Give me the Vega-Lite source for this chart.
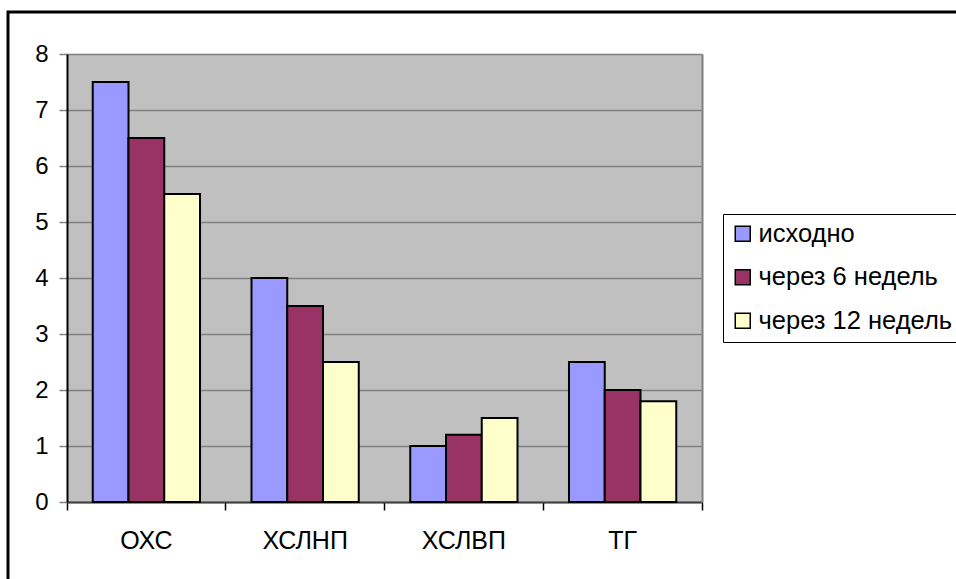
{
  "$schema": "https://vega.github.io/schema/vega-lite/v6.json",
  "autosize": {"type": "none"},
  "width": 958,
  "height": 577,
  "padding": {"left": 8, "top": 12, "right": -10, "bottom": -10},
  "background": "#ffffff",
  "config": {
    "font": "Liberation Sans",
    "view": {"stroke": "#000000", "strokeWidth": 3, "fill": "#ffffff"}
  },
  "data": {
    "values": [
      {"показатель": "ОХС", "срок": "исходно", "значение": 7.5},
      {"показатель": "ОХС", "срок": "через 6 недель", "значение": 6.5},
      {"показатель": "ОХС", "срок": "через 12 недель", "значение": 5.5},
      {"показатель": "ХСЛНП", "срок": "исходно", "значение": 4.0},
      {"показатель": "ХСЛНП", "срок": "через 6 недель", "значение": 3.5},
      {"показатель": "ХСЛНП", "срок": "через 12 недель", "значение": 2.5},
      {"показатель": "ХСЛВП", "срок": "исходно", "значение": 1.0},
      {"показатель": "ХСЛВП", "срок": "через 6 недель", "значение": 1.2},
      {"показатель": "ХСЛВП", "срок": "через 12 недель", "значение": 1.5},
      {"показатель": "ТГ", "срок": "исходно", "значение": 2.5},
      {"показатель": "ТГ", "срок": "через 6 недель", "значение": 2.0},
      {"показатель": "ТГ", "срок": "через 12 недель", "значение": 1.8}
    ]
  },
  "layer": [
    {
      "mark": {"type": "bar", "stroke": "#000000", "strokeWidth": 2},
      "encoding": {
        "x": {
          "field": "показатель",
          "type": "nominal",
          "sort": ["ОХС", "ХСЛНП", "ХСЛВП", "ТГ"],
          "scale": {"range": [59, 694], "paddingInner": 0, "paddingOuter": 0},
          "axis": {
            "orient": "bottom",
            "offset": -87,
            "title": null,
            "bandPosition": 1,
            "tickExtra": true,
            "domainColor": "#404040",
            "domainWidth": 2,
            "tickColor": "#000000",
            "tickSize": 8,
            "tickWidth": 1.5,
            "labelFontSize": 25,
            "labelColor": "#000000",
            "labelPadding": 18,
            "labelAngle": 0,
            "grid": false
          }
        },
        "xOffset": {
          "field": "срок",
          "type": "nominal",
          "sort": ["исходно", "через 6 недель", "через 12 недель"],
          "scale": {"paddingInner": 0, "paddingOuter": 0.72}
        },
        "y": {
          "field": "значение",
          "type": "quantitative",
          "scale": {"domain": [0, 8], "range": [490, 42], "nice": false, "zero": true},
          "axis": {
            "orient": "left",
            "offset": -694,
            "title": null,
            "values": [4],
            "labels": false,
            "ticks": false,
            "domain": true,
            "domainColor": "#808080",
            "domainWidth": 2,
            "grid": true,
            "gridColor": "#C0C0C0",
            "gridWidth": 448,
            "gridOpacity": 1
          }
        },
        "color": {
          "field": "срок",
          "type": "nominal",
          "sort": ["исходно", "через 6 недель", "через 12 недель"],
          "scale": {
            "domain": ["исходно", "через 6 недель", "через 12 недель"],
            "range": ["#9999FF", "#993366", "#FFFFCC"]
          },
          "legend": {
            "orient": "none",
            "legendX": 715,
            "legendY": 202,
            "title": null,
            "strokeColor": "#000000",
            "padding": 7,
            "symbolType": "square",
            "symbolSize": 225,
            "symbolStrokeColor": "#000000",
            "symbolStrokeWidth": 1.5,
            "symbolOpacity": 1,
            "labelFontSize": 25.5,
            "labelColor": "#000000",
            "labelOffset": 3,
            "rowPadding": 16.5,
            "labelLimit": 400
          }
        }
      }
    },
    {
      "mark": {"type": "bar", "opacity": 0},
      "encoding": {
        "x": {
          "field": "показатель",
          "type": "nominal",
          "sort": ["ОХС", "ХСЛНП", "ХСЛВП", "ТГ"],
          "axis": {
            "orient": "bottom",
            "offset": -87,
            "title": null,
            "bandPosition": 1,
            "tickExtra": true,
            "domainColor": "#404040",
            "domainWidth": 2,
            "tickColor": "#000000",
            "tickSize": 8,
            "tickWidth": 1.5,
            "labelFontSize": 25,
            "labelColor": "#000000",
            "labelPadding": 18,
            "labelAngle": 0,
            "grid": false
          }
        },
        "y": {
          "field": "значение",
          "type": "quantitative",
          "axis": {
            "orient": "left",
            "offset": -59,
            "title": null,
            "values": [0, 1, 2, 3, 4, 5, 6, 7, 8],
            "domainColor": "#000000",
            "domainWidth": 2,
            "tickColor": "#808080",
            "tickSize": 8,
            "tickWidth": 1.5,
            "labelFontSize": 24,
            "labelColor": "#000000",
            "labelPadding": 11,
            "grid": true,
            "gridColor": "#808080",
            "gridWidth": 1.5,
            "gridOpacity": 1
          }
        }
      }
    }
  ],
  "resolve": {"axis": {"y": "independent"}}
}
